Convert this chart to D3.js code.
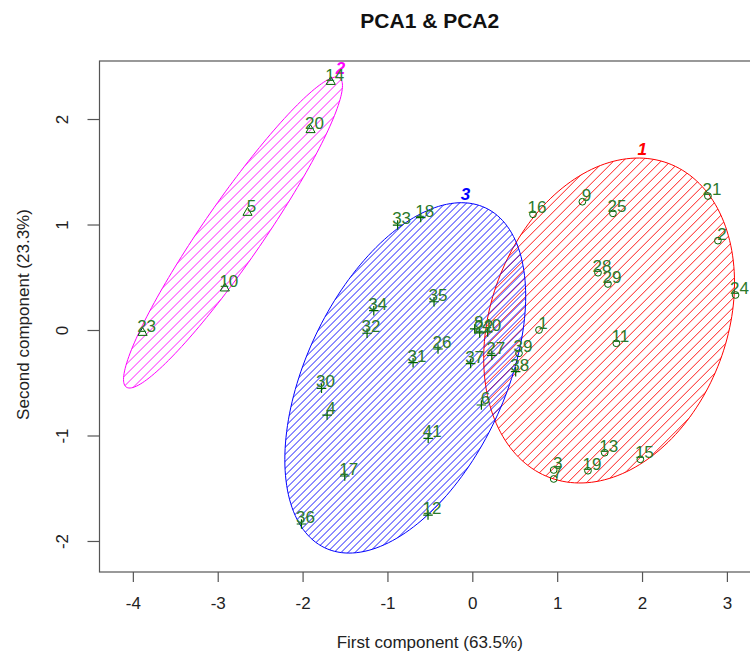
<!DOCTYPE html>
<html>
<head>
<meta charset="utf-8">
<script src="https://cdn.jsdelivr.net/npm/d3@7"></script>
<style>
  html, body { margin: 0; padding: 0; background: #fff; }
  svg { display: block; font-family: "Liberation Sans", Arial, sans-serif; }
</style>
</head>
<body>
<svg id="chart" width="750" height="653"></svg>
<script>
// Observation ids, PCA scores and cluster membership
const ids     = [1, 2, 3, 4, 5, 6, 7, 8, 9, 10,
                 11, 12, 13, 14, 15, 16, 17, 18, 19, 20,
                 21, 22, 23, 24, 25, 26, 27, 28, 29, 30,
                 31, 32, 33, 34, 35, 36, 37, 38, 39, 40, 41];
const pc1     = [0.786, 2.894, 0.959, -1.711, -2.649, 0.107, 0.959, 0.028, 1.297, -2.916,
                 1.697, -0.522, 1.560, -1.668, 1.980, 0.715, -1.503, -0.608, 1.363, -1.906,
                 2.776, 0.087, -3.885, 3.102, 1.657, -0.404, 0.230, 1.481, 1.598, -1.777,
                 -0.698, -1.240, -0.880, -1.161, -0.451, -2.013, -0.020, 0.511, 0.550, 0.181, -0.520];
const pc2     = [0.000, 0.847, -1.327, -0.806, 1.112, -0.711, -1.412, 0.010, 1.216, 0.395,
                 -0.126, -1.754, -1.163, 2.353, -1.226, 1.097, -1.384, 1.066, -1.334, 1.896,
                 1.270, -0.028, -0.026, 0.332, 1.106, -0.180, -0.240, 0.543, 0.436, -0.553,
                 -0.310, -0.031, 0.995, 0.183, 0.268, -1.839, -0.318, -0.395, -0.221, -0.019, -1.027];
const cluster = [1, 1, 1, 3, 2, 3, 1, 3, 1, 2,
                 1, 3, 1, 2, 1, 1, 3, 3, 1, 2,
                 1, 3, 2, 1, 1, 3, 3, 1, 1, 3,
                 3, 3, 3, 3, 3, 3, 3, 3, 1, 3, 3];

// Spanning ellipse of each cluster: centre and shape matrix [sxx sxy; sxy syy]
const clusterIds = [1, 2, 3];
const ellCx  = [1.612, -2.820, -0.790];
const ellCy  = [0.090, 0.924, -0.454];
const ellSxx = [2.184, 1.664, 2.014];
const ellSxy = [0.530, 1.796, 1.100];
const ellSyy = [2.372, 2.173, 2.758];

const xTicks = [-4, -3, -2, -1, 0, 1, 2, 3];
const yTicks = [-2, -1, 0, 1, 2];

const titleText = "PCA1 & PCA2";
const xTitle = "First component (63.5%)";
const yTitle = "Second component (23.3%)";

// ---- layout ----
const svg = d3.select("#chart");
const plot = { left: 99.5, right: 760, top: 61, bottom: 572 };
const x = d3.scaleLinear().domain([-4.393, 3.39]).range([plot.left, plot.right]);
const y = d3.scaleLinear().domain([-2.294, 2.55]).range([plot.bottom, plot.top]);

const clusterColor = { 1: "#ff0000", 2: "#ff00ff", 3: "#0000ff" };
const hatchGap = { 1: 9.5, 2: 10, 3: 7 };   // horizontal distance between shading lines
const pointCol = "#006400";
const textCol = "#2b7a2b";
const tickFmt = d => String(d);             // plain hyphen-minus like base graphics

// ---- ellipses ----
function ellipsePoints(i) {
  const a = Math.sqrt(ellSxx[i]);
  const b = ellSxy[i] / a;
  const c = Math.sqrt(ellSyy[i] - b * b);
  return d3.range(0, 361, 2).map(deg => {
    const t = deg * Math.PI / 180;
    return [x(ellCx[i] + a * Math.cos(t)), y(ellCy[i] + b * Math.cos(t) + c * Math.sin(t))];
  });
}

const defs = svg.append("defs");
const line = d3.line();
const ellLayer = svg.append("g");

clusterIds.forEach((k, i) => {
  const pts = ellipsePoints(i);
  const pathD = line(pts) + "Z";
  defs.append("clipPath").attr("id", "clip-" + k).append("path").attr("d", pathD);

  const xs = pts.map(p => p[0]), ys = pts.map(p => p[1]);
  const kMin = d3.min(xs) + d3.min(ys), kMax = d3.max(xs) + d3.max(ys);
  const g = ellLayer.append("g").attr("clip-path", `url(#clip-${k})`);
  for (let s = kMin; s <= kMax; s += hatchGap[k]) {
    // line x + y = s, drawn across the bounding box
    const x0 = d3.min(xs) - 5, x1 = d3.max(xs) + 5;
    g.append("line")
      .attr("x1", x0).attr("y1", s - x0)
      .attr("x2", x1).attr("y2", s - x1)
      .attr("stroke", clusterColor[k]).attr("stroke-width", 0.9);
  }
  ellLayer.append("path").attr("d", pathD)
    .attr("fill", "none").attr("stroke", clusterColor[k]).attr("stroke-width", 1);
});

// cluster numbers above each ellipse
clusterIds.forEach((k, i) => {
  const topX = ellCx[i] + ellSxy[i] / Math.sqrt(ellSyy[i]);
  const topY = ellCy[i] + Math.sqrt(ellSyy[i]);
  svg.append("text")
    .attr("x", x(topX) + 4).attr("y", y(topY) - 9)
    .attr("dy", "0.36em")
    .attr("text-anchor", "middle")
    .attr("font-size", 17).attr("font-weight", "bold").attr("font-style", "italic")
    .attr("fill", clusterColor[k])
    .text(k);
});

// ---- frame and axes ----
svg.append("rect")
  .attr("x", plot.left).attr("y", plot.top)
  .attr("width", plot.right - plot.left).attr("height", plot.bottom - plot.top)
  .attr("fill", "none").attr("stroke", "#555").attr("stroke-width", 1.2);

const xAxis = svg.append("g")
  .attr("transform", `translate(0,${plot.bottom})`)
  .call(d3.axisBottom(x).tickValues(xTicks).tickSize(10).tickFormat(tickFmt));
xAxis.select(".domain").remove();
xAxis.selectAll(".tick line").attr("stroke", "#555").attr("stroke-width", 1.2);
xAxis.selectAll(".tick text")
  .attr("y", 25).attr("dy", "0.71em")
  .attr("font-size", 17).attr("font-family", "Liberation Sans, Arial, sans-serif")
  .attr("fill", "#222");

const yAxis = svg.append("g")
  .attr("transform", `translate(${plot.left},0)`)
  .call(d3.axisLeft(y).tickValues(yTicks).tickSize(12).tickFormat(tickFmt));
yAxis.select(".domain").remove();
yAxis.selectAll(".tick line").attr("stroke", "#555").attr("stroke-width", 1.2);
yAxis.selectAll(".tick text")
  .attr("x", null).attr("dy", "0.36em")
  .attr("text-anchor", "middle")
  .attr("transform", "translate(-38,0) rotate(-90)")
  .attr("font-size", 17).attr("font-family", "Liberation Sans, Arial, sans-serif")
  .attr("fill", "#222");

svg.append("text")
  .attr("x", (plot.left + plot.right) / 2).attr("y", 28)
  .attr("text-anchor", "middle")
  .attr("font-size", 21).attr("font-weight", "bold").attr("fill", "#111")
  .text(titleText);

svg.append("text")
  .attr("x", (plot.left + plot.right) / 2).attr("y", 648)
  .attr("text-anchor", "middle")
  .attr("font-size", 17).attr("fill", "#222")
  .text(xTitle);

svg.append("text")
  .attr("transform", `translate(23,${(plot.top + plot.bottom) / 2 - 2}) rotate(-90)`)
  .attr("dy", "0.36em")
  .attr("text-anchor", "middle")
  .attr("font-size", 17).attr("fill", "#222")
  .text(yTitle);

// ---- points ----
const sz = 9; // symbol size in px
const pts = ids.map((id, i) => ({ id, px: x(pc1[i]), py: y(pc2[i]), k: cluster[i] }));
const ptLayer = svg.append("g");
pts.forEach(p => {
  if (p.k === 1) {
    ptLayer.append("circle").attr("cx", p.px).attr("cy", p.py).attr("r", 0.375 * sz)
      .attr("fill", "none").attr("stroke", pointCol).attr("stroke-width", 1);
  } else if (p.k === 2) {
    const r = 0.583 * sz;
    const tri = [[p.px, p.py - r], [p.px + r * Math.sqrt(3) / 2, p.py + r / 2], [p.px - r * Math.sqrt(3) / 2, p.py + r / 2]];
    ptLayer.append("path").attr("d", line(tri) + "Z")
      .attr("fill", "none").attr("stroke", pointCol).attr("stroke-width", 1);
  } else {
    const h = 0.53 * sz;
    ptLayer.append("path")
      .attr("d", `M${p.px - h},${p.py}H${p.px + h}M${p.px},${p.py - h}V${p.py + h}`)
      .attr("fill", "none").attr("stroke", pointCol).attr("stroke-width", 1.2);
  }
});

// observation labels
svg.append("g").selectAll("text").data(pts).join("text")
  .attr("x", d => d.px + 4).attr("y", d => d.py - 7)
  .attr("dy", "0.36em")
  .attr("text-anchor", "middle")
  .attr("font-size", 17).attr("fill", textCol)
  .text(d => d.id);
</script>
</body>
</html>
